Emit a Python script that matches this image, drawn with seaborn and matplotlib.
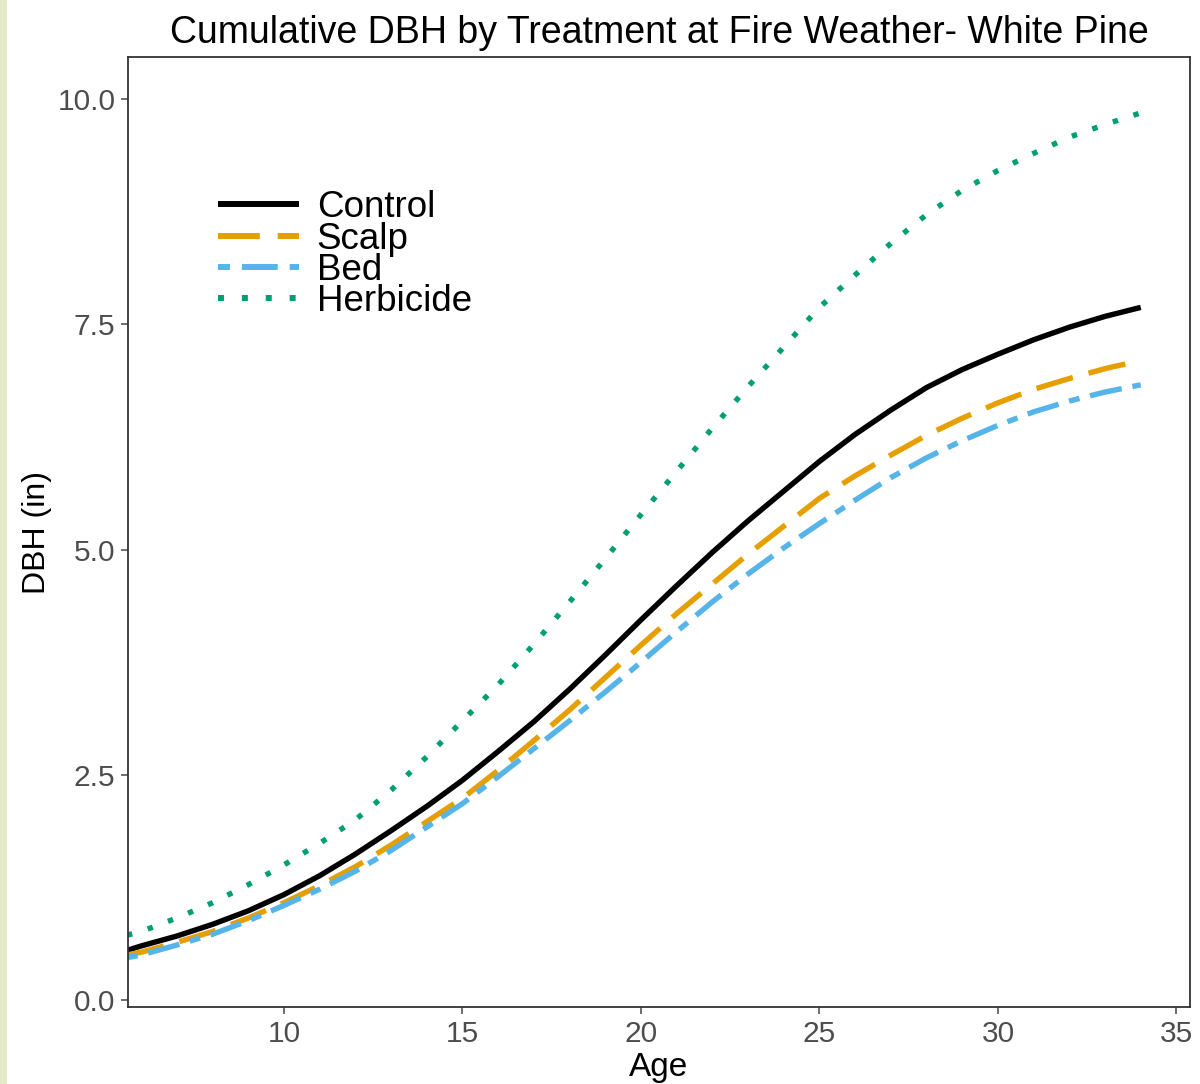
import matplotlib
matplotlib.use("Agg")
import matplotlib.pyplot as plt
from matplotlib.patches import Rectangle
import pandas as pd
import seaborn as sns

# Stand age (years)
age = [5.6, 6, 7, 8, 9, 10, 11, 12, 13, 14, 15, 16, 17, 18, 19, 20,
       21, 22, 23, 24, 25, 26, 27, 28, 29, 30, 31, 32, 33, 34]

# Cumulative DBH (in) per treatment
control = [0.55, 0.60, 0.71, 0.84, 0.99, 1.17, 1.38, 1.62, 1.88, 2.15, 2.44, 2.76, 3.09, 3.45, 3.83,
           4.22, 4.60, 4.97, 5.32, 5.65, 5.98, 6.28, 6.55, 6.80, 7.00, 7.17, 7.33, 7.47, 7.59, 7.69]
scalp = [0.50, 0.53, 0.64, 0.76, 0.91, 1.08, 1.27, 1.48, 1.72, 1.98, 2.24, 2.55, 2.88, 3.22, 3.58,
         3.94, 4.29, 4.62, 4.95, 5.26, 5.57, 5.82, 6.05, 6.27, 6.46, 6.63, 6.78, 6.90, 7.01, 7.10]
bed = [0.47, 0.50, 0.61, 0.73, 0.88, 1.05, 1.23, 1.43, 1.66, 1.92, 2.18, 2.48, 2.79, 3.10, 3.42,
       3.75, 4.09, 4.42, 4.73, 5.02, 5.29, 5.55, 5.80, 6.02, 6.21, 6.38, 6.53, 6.65, 6.75, 6.83]
herbicide = [0.72, 0.76, 0.91, 1.08, 1.28, 1.50, 1.74, 2.00, 2.33, 2.70, 3.10, 3.50, 3.95, 4.42, 4.90,
             5.39, 5.87, 6.35, 6.81, 7.25, 7.69, 8.05, 8.40, 8.72, 8.99, 9.21, 9.40, 9.58, 9.72, 9.85]

treatments = ["Control", "Scalp", "Bed", "Herbicide"]
series = [control, scalp, bed, herbicide]

x_ticks = [10, 15, 20, 25, 30, 35]
y_ticks = [0.0, 2.5, 5.0, 7.5, 10.0]
y_tick_labels = ["0.0", "2.5", "5.0", "7.5", "10.0"]

frames = [pd.DataFrame({"Age": age, "DBH": vals, "Treatment": name})
          for name, vals in zip(treatments, series)]
df = pd.concat(frames, ignore_index=True)

sns.set_theme(style="white")
plt.rcParams["font.family"] = ["Liberation Sans", "DejaVu Sans"]

palette = {"Control": "#000000", "Scalp": "#E69F00", "Bed": "#56B4E9", "Herbicide": "#009E73"}
dashes = {"Control": "", "Scalp": (7, 3), "Bed": (2, 2, 6, 2), "Herbicide": (1, 3)}

fig = plt.figure(figsize=(12, 10.84), dpi=100)
fig.patches.append(Rectangle((0, 0), 7 / 1200, 1, transform=fig.transFigure,
                             facecolor="#e3e9c9", edgecolor="none", zorder=0))
ax = fig.add_axes([128 / 1200, 1 - 1007 / 1084, (1190 - 128) / 1200, (1007 - 57) / 1084])

sns.lineplot(data=df, x="Age", y="DBH", hue="Treatment", style="Treatment",
             hue_order=treatments, style_order=treatments,
             palette=palette, dashes=dashes, linewidth=3.9, ax=ax, sort=True)
for line in ax.get_lines():
    line.set_dash_capstyle("butt")
    line.set_solid_capstyle("butt")

ax.set_xlim(5.63, 35.38)
ax.set_ylim(-0.078, 10.47)
ax.set_xticks(x_ticks)
ax.set_yticks(y_ticks)
ax.set_yticklabels(y_tick_labels)
ax.tick_params(axis="both", which="major", direction="out", length=5, width=1.2,
               color="#555555", labelsize=21.5, labelcolor="#4d4d4d", pad=4,
               bottom=True, left=True)
for s in ax.spines.values():
    s.set_color("#333333")
    s.set_linewidth(1.3)

ax.set_xlabel("Age", fontsize=24, color="black", labelpad=3)
ax.set_ylabel("DBH (in)", fontsize=23, color="black", labelpad=4)
ax.set_title("Cumulative DBH by Treatment at Fire Weather- White Pine",
             fontsize=27, color="black", pad=10)

leg = ax.legend(loc="upper left", bbox_to_anchor=(0.0675, 0.879), frameon=False,
                fontsize=26.5, handlelength=2.2, handletextpad=0.48,
                labelspacing=-0.1, borderpad=0)
for t in leg.get_texts():
    t.set_color("black")
for h in leg.get_lines():
    h.set_linewidth(4.3)
    h.set_dash_capstyle("butt")
    h.set_solid_capstyle("butt")

fig.savefig("out.png", dpi=100, facecolor="white")
